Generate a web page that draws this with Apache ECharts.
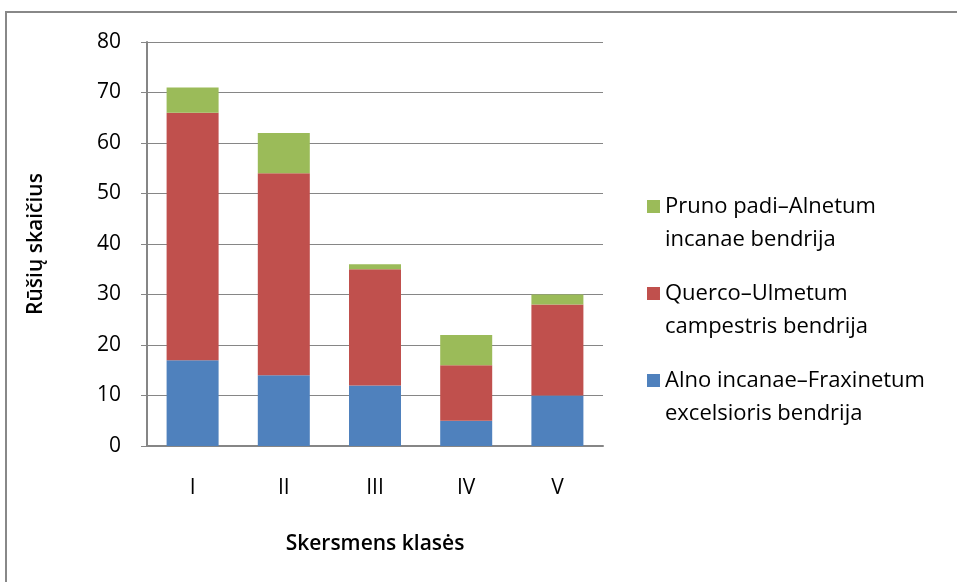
<!DOCTYPE html>
<html>
<head>
<meta charset="utf-8">
<script src="https://cdn.jsdelivr.net/npm/echarts@6/dist/echarts.min.js"></script>
<style>
  html, body { margin: 0; padding: 0; background: #fff; }
  #chart { width: 957px; height: 582px; }
</style>
</head>
<body>
<div id="chart"></div>
<script>
const categories = ["I", "II", "III", "IV", "V"];
const alnoValues = [17, 14, 12, 5, 10];
const quercoValues = [49, 40, 23, 11, 18];
const prunoValues = [5, 8, 1, 6, 2];
const yTicks = [0, 10, 20, 30, 40, 50, 60, 70, 80];

const seriesNames = {
  alno: "Alno incanae–Fraxinetum\nexcelsioris bendrija",
  querco: "Querco–Ulmetum\ncampestris bendrija",
  pruno: "Pruno padi–Alnetum\nincanae bendrija",
};

const font = "'Open Sans', 'Noto Sans', sans-serif";
const axisGray = "#868686";
// square sitting at the top of a taller box, so it lines up with the first text line
const topSquare = "path://M0,0H10V10H0Z M0,35.4H0.01V35.41H0Z";

const chart = echarts.init(document.getElementById("chart"));

chart.setOption({
  animation: false,
  textStyle: { fontFamily: font, color: "#000" },
  graphic: [
    {
      type: "rect",
      shape: { x: 6, y: 12, width: 1000, height: 1000 },
      style: { fill: "none", stroke: "#888", lineWidth: 2 },
      silent: true,
    },
  ],
  grid: { left: 147, top: 42, width: 456, height: 404 },
  legend: {
    orient: "vertical",
    left: 642,
    top: 185,
    icon: topSquare,
    itemWidth: 13,
    itemHeight: 46,
    itemGap: 21,
    data: [seriesNames.pruno, seriesNames.querco, seriesNames.alno],
    textStyle: { fontSize: 22, lineHeight: 33, fontFamily: font, color: "#000" },
  },
  xAxis: {
    type: "category",
    data: categories,
    name: "Skersmens klasės",
    nameLocation: "middle",
    nameGap: 88,
    nameTextStyle: { fontSize: 21, fontWeight: 600, fontFamily: font, color: "#000" },
    axisLine: { lineStyle: { color: axisGray, width: 2 } },
    axisTick: { show: false },
    axisLabel: { fontSize: 21, margin: 32, color: "#000", fontFamily: font },
  },
  yAxis: {
    type: "value",
    min: yTicks[0],
    max: yTicks[yTicks.length - 1],
    interval: 10,
    name: "Rūšių skaičius",
    nameLocation: "middle",
    nameGap: 100,
    nameRotate: 90,
    nameTextStyle: { fontSize: 21, fontWeight: 600, fontFamily: font, color: "#000" },
    axisLine: { show: true, lineStyle: { color: axisGray, width: 2 } },
    axisTick: { show: true, length: 6, lineStyle: { color: axisGray } },
    axisLabel: { fontSize: 21, margin: 26, color: "#000", fontFamily: font },
    splitLine: { lineStyle: { color: axisGray, width: 1 } },
  },
  series: [
    {
      name: seriesNames.alno,
      type: "bar",
      stack: "total",
      barWidth: 52,
      data: alnoValues,
      itemStyle: { color: "#4f81bd" },
    },
    {
      name: seriesNames.querco,
      type: "bar",
      stack: "total",
      data: quercoValues,
      itemStyle: { color: "#c0504d" },
    },
    {
      name: seriesNames.pruno,
      type: "bar",
      stack: "total",
      data: prunoValues,
      itemStyle: { color: "#9bbb59" },
    },
  ],
});
</script>
</body>
</html>
